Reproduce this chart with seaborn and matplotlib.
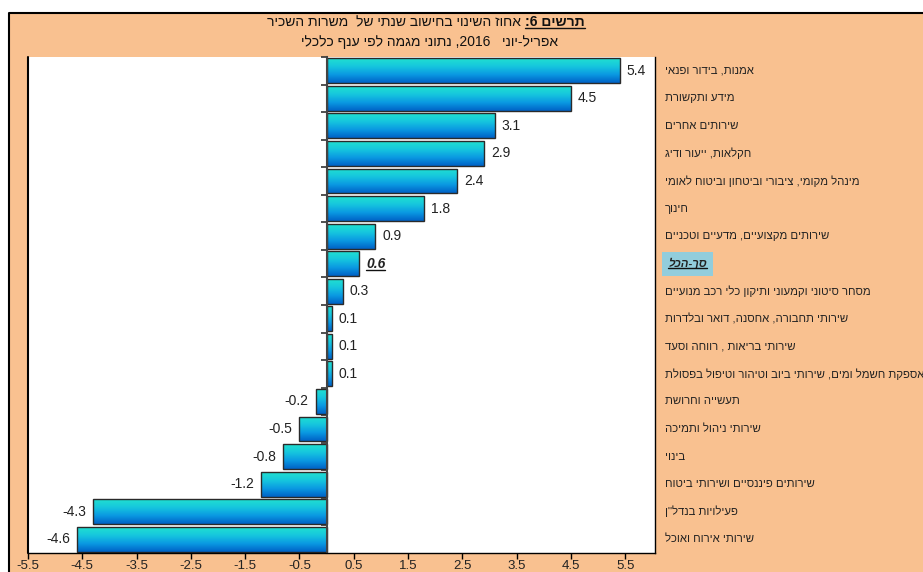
import re
import numpy as np
import pandas as pd
import matplotlib
matplotlib.use('Agg')
import matplotlib.pyplot as plt
import seaborn as sns
from matplotlib.colors import LinearSegmentedColormap
from matplotlib.lines import Line2D
from matplotlib.patches import Rectangle

# data (top to bottom)
branches = [
    "אמנות, בידור ופנאי",
    "מידע ותקשורת",
    "שירותים אחרים",
    "חקלאות, ייעור ודיג",
    "מינהל מקומי, ציבורי וביטחון וביטוח לאומי",
    "חינוך",
    "שירותים מקצועיים, מדעיים וטכניים",
    "סך-הכל",
    "מסחר סיטוני וקמעוני ותיקון כלי רכב מנועיים",
    "שירותי תחבורה, אחסנה, דואר ובלדרות",
    "שירותי בריאות , רווחה וסעד",
    "אספקת חשמל ומים, שירותי ביוב וטיהור וטיפול בפסולת",
    "תעשייה וחרושת",
    "שירותי ניהול ותמיכה",
    "בינוי",
    "שירותים פיננסיים ושירותי ביטוח",
    "פעילויות בנדל\"ן",
    "שירותי אירוח ואוכל",
]
changes = [5.4, 4.5, 3.1, 2.9, 2.4, 1.8, 0.9, 0.6, 0.3, 0.1, 0.1, 0.1,
           -0.2, -0.5, -0.8, -1.2, -4.3, -4.6]
total_label = "סך-הכל"
title_bold = "תרשים 6:"
title_rest = "אחוז השינוי בחישוב שנתי של  משרות השכיר"
subtitle = "אפריל-יוני   2016, נתוני מגמה לפי ענף כלכלי"
xticks = [-5.5, -4.5, -3.5, -2.5, -1.5, -0.5, 0.5, 1.5, 2.5, 3.5, 4.5, 5.5]


def rtl(s):
    # matplotlib has no bidi support: flip to visual order, keep numbers as is
    r = s[::-1]
    return re.sub(r'[0-9A-Za-z.]+', lambda m: m.group(0)[::-1], r)


sns.set_theme(style='white')
plt.rcParams['font.family'] = ['Liberation Sans', 'DejaVu Sans']

W, H = 923, 572
fig = plt.figure(figsize=(W / 100, H / 100), dpi=100)
fig.patch.set_facecolor('white')

peach = '#F9C190'
fig.add_artist(Rectangle((9 / W, 0), 1, 1 - 13 / H, transform=fig.transFigure,
                         facecolor=peach, edgecolor='none', zorder=-5))
fig.add_artist(Line2D([9 / W, 9 / W, 1], [0, 1 - 13 / H, 1 - 13 / H],
                      transform=fig.transFigure, color='black', lw=1.5))

ax = fig.add_axes([28 / W, 19 / H, 627 / W, 496 / H])
ax.set_facecolor('white')

df = pd.DataFrame({'branch': branches, 'change': changes})
sns.barplot(data=df, x='change', y='branch', orient='h', color='#0a9be0',
            saturation=1, width=0.9, edgecolor='#2a2a2a', linewidth=1, ax=ax)

# vertical gradient inside each bar
cmap = LinearSegmentedColormap.from_list(
    'bar', ['#20e0d0', '#16c6de', '#0a98e2', '#0062c6'])
grad = np.linspace(0, 1, 64).reshape(-1, 1)
for p in ax.patches:
    x0, y0, w, h = p.get_x(), p.get_y(), p.get_width(), p.get_height()
    im = ax.imshow(grad, cmap=cmap, aspect='auto', origin='upper',
                   extent=(x0, x0 + w, y0 + h, y0), interpolation='bicubic',
                   zorder=p.get_zorder() - 0.05)
    im.set_clip_path(p)
    p.set_facecolor('none')

ax.set_xlim(-5.5, 6.05)
ax.set_ylim(len(branches) - 0.5, -0.5)
ax.set_xlabel('')
ax.set_ylabel('')

ax.spines['left'].set_position(('data', 0))
ax.spines['left'].set_color('#444444')
ax.spines['left'].set_linewidth(1.5)
ax.spines['top'].set_visible(False)
for s in ['bottom', 'right']:
    ax.spines[s].set_color('black')
    ax.spines[s].set_linewidth(1)
ax.plot([0, 0], [0, 1], transform=ax.transAxes, color='black', lw=1.5,
        clip_on=False)

ax.set_yticks(np.arange(-0.5, len(branches)), labels=[])
ax.set_xticks(xticks, labels=[f'{v:g}' for v in xticks])
ax.tick_params(axis='y', direction='out', length=4, width=1.2,
               color='#333333', left=True)
ax.tick_params(axis='x', direction='out', length=4, width=1, color='black',
               bottom=True, labelsize=9.5, pad=1, labelcolor='#222222')

vals = ax.bar_label(ax.containers[0], labels=[f'{v:g}' for v in changes],
                    padding=5, fontsize=10, color='#222222')

trans = ax.get_yaxis_transform()
names = []
for i, name in enumerate(branches):
    t = ax.text(1.016, i, rtl(name), transform=trans, ha='left', va='center',
                fontsize=8.2, color='#222222', clip_on=False)
    names.append(t)

ti = branches.index(total_label)
names[ti].set_fontweight('bold')
names[ti].set_fontstyle('italic')
names[ti].set_x(1.021)
names[ti].set_bbox(dict(boxstyle='square,pad=0.55', facecolor='#92CDDC',
                        edgecolor='none'))
vals[ti].set_fontweight('bold')
vals[ti].set_fontstyle('italic')

# title, bold part on the right
fs_title = 10
cx = 426 / W
t_rest = fig.text(0, 1 - 22 / H, rtl(title_rest), fontsize=fs_title,
                  va='center', ha='left', color='#111111')
t_bold = fig.text(0, 1 - 22 / H, rtl(title_bold), fontsize=fs_title,
                  va='center', ha='left', fontweight='bold', color='#111111')
fig.text(430 / W, 1 - 42 / H, rtl(subtitle), fontsize=fs_title, va='center',
         ha='center', color='#111111')

fig.canvas.draw()
r = fig.canvas.get_renderer()
wr = t_rest.get_window_extent(r).width / W
wb = t_bold.get_window_extent(r).width / W
gap = 4 / W
start = cx - (wr + gap + wb) / 2
t_rest.set_x(start)
t_bold.set_x(start + wr + gap)
fig.canvas.draw()


def underline(t, dy=1.5):
    bb = t.get_window_extent(r)
    fig.add_artist(Line2D([bb.x0 / W, bb.x1 / W],
                          [(bb.y0 + dy) / H, (bb.y0 + dy) / H],
                          transform=fig.transFigure, color='#111111', lw=1))


underline(t_bold)
underline(names[ti], dy=1)
underline(vals[ti], dy=1)

fig.savefig('out.png', dpi=100, facecolor=fig.get_facecolor())
